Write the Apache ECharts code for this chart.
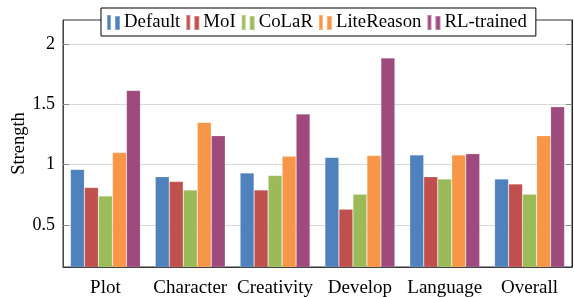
<!DOCTYPE html>
<html>
<head>
<meta charset="utf-8">
<script src="https://cdn.jsdelivr.net/npm/echarts@6/dist/echarts.min.js"></script>
<style>html,body{margin:0;padding:0;background:#fff}#c{width:574px;height:297px}</style>
</head>
<body>
<div id="c"></div>
<script>
var categories = ['Plot', 'Character', 'Creativity', 'Develop', 'Language', 'Overall'];
var seriesNames = ['Default', 'MoI', 'CoLaR', 'LiteReason', 'RL-trained'];
var defaultVals = [0.96, 0.90, 0.93, 1.06, 1.08, 0.88];
var moiVals = [0.81, 0.86, 0.79, 0.63, 0.90, 0.84];
var colarVals = [0.74, 0.79, 0.91, 0.755, 0.88, 0.755];
var liteReasonVals = [1.10, 1.35, 1.07, 1.075, 1.08, 1.24];
var rlVals = [1.615, 1.24, 1.42, 1.885, 1.09, 1.48];
var yTicks = [0.5, 1, 1.5, 2];
var yTickLabels = ['0.5', '1', '1.5', '2'];

var colors = ['#4F81BD', '#C0504D', '#9BBB59', '#F79646', '#9E4A7C'];
var allVals = [defaultVals, moiVals, colarVals, liteReasonVals, rlVals];
var FONT = '"Liberation Serif", "Times New Roman", serif';
var icon = 'path://M0,0h4v15h-4z M8,1h5v14h-5z';

var chart = echarts.init(document.getElementById('c'), null, {renderer: 'canvas'});
var series = seriesNames.map(function (n, i) {
  return {
    name: n,
    type: 'bar',
    data: allVals[i],
    barWidth: 14,
    barGap: '0%',
    itemStyle: {color: colors[i], borderColor: 'rgba(255,255,255,0.3)', borderWidth: 0.6},
    animation: false
  };
});
chart.setOption({
  animation: false,
  color: colors,
  grid: {left: 63, right: 2, top: 20, bottom: 30, outerBoundsMode: 'none', containLabel: false,
    show: true, borderColor: '#333', borderWidth: 1, backgroundColor: 'transparent'},
  legend: {
    data: seriesNames,
    left: 101, top: 8,
    padding: [5, 9, 4, 5],
    itemGap: 5,
    itemWidth: 13,
    itemHeight: 15,
    icon: icon,
    backgroundColor: '#fff',
    borderColor: '#000',
    borderWidth: 1,
    borderRadius: 0,
    textStyle: {fontFamily: FONT, fontSize: 18.8, color: '#000', padding: [0, 0, 0, -1]},
    z: 10
  },
  xAxis: {
    type: 'category',
    data: categories,
    axisLine: {show: true, lineStyle: {color: '#333', width: 1}},
    axisTick: {show: false},
    axisLabel: {fontFamily: FONT, fontSize: 19, color: '#000', margin: 12, interval: 0}
  },
  yAxis: [{
    type: 'value',
    min: 0.15, max: 2.2,
    name: 'Strength',
    nameLocation: 'middle',
    nameGap: 34,
    nameRotate: 90,
    nameMoveOverlap: false,
    nameTextStyle: {fontFamily: FONT, fontSize: 18.5, color: '#000'},
    axisLine: {show: true, lineStyle: {color: '#444', width: 1}},
    axisTick: {show: true, inside: true, length: 6, customValues: yTicks, lineStyle: {color: '#888'}},
    axisLabel: {fontFamily: FONT, fontSize: 18, color: '#000', margin: 8, customValues: yTicks,
      formatter: function (v) { var k = yTicks.indexOf(v); return k >= 0 ? yTickLabels[k] : ''; }},
    splitLine: {show: true, lineStyle: {color: '#d9d9d9', width: 1}}
  }, {
    type: 'value',
    position: 'right',
    min: 0.15, max: 2.2,
    axisLine: {show: true, lineStyle: {color: '#222', width: 1}},
    axisTick: {show: true, inside: true, length: 6, customValues: yTicks, lineStyle: {color: '#888'}},
    axisLabel: {show: false, customValues: yTicks},
    splitLine: {show: false}
  }],
  series: series
});
</script>
</body>
</html>
